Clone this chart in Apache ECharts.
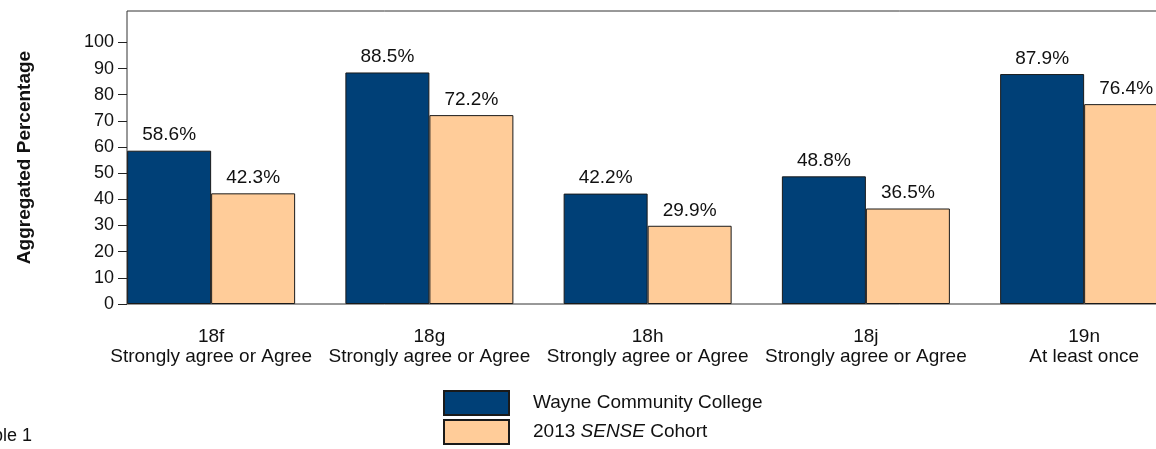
<!DOCTYPE html>
<html>
<head>
<meta charset="utf-8">
<script src="https://cdn.jsdelivr.net/npm/echarts@6/dist/echarts.min.js"></script>
<style>
  html, body { margin: 0; padding: 0; background: #fff; }
  #chart { width: 1156px; height: 449px; }
</style>
</head>
<body>
<div id="chart"></div>
<script>
var categories = [
  '18f\nStrongly agree or Agree',
  '18g\nStrongly agree or Agree',
  '18h\nStrongly agree or Agree',
  '18j\nStrongly agree or Agree',
  '19n\nAt least once'
];
var collegeValues = [58.6, 88.5, 42.2, 48.8, 87.9];
var cohortValues = [42.3, 72.2, 29.9, 36.5, 76.4];
var yTicks = [0, 10, 20, 30, 40, 50, 60, 70, 80, 90, 100];

var FONT = '"Liberation Sans", Arial, sans-serif';
var chart = echarts.init(document.getElementById('chart'));

var barLabel = {
  show: true,
  position: 'top',
  distance: 6,
  color: '#111',
  fontFamily: FONT,
  fontSize: 19,
  formatter: function (p) { return p.value.toFixed(1) + '%'; }
};

chart.setOption({
  animation: false,
  backgroundColor: '#fff',
  textStyle: { fontFamily: FONT },
  grid: [
    // frame: top, left and bottom lines, runs off the right edge
    { left: 127, top: 11, right: -100, height: 293, show: true, outerBoundsMode: 'none',
      borderColor: '#333', borderWidth: 1, backgroundColor: 'transparent' },
    // data grid, first band starts left of the frame
    { left: 102, top: 11, right: -37.25, height: 293, outerBoundsMode: 'none' }
  ],
  xAxis: [
    { gridIndex: 0, type: 'value', show: false },
    {
      gridIndex: 1,
      type: 'category',
      data: categories,
      axisLine: { show: false },
      axisTick: { show: false },
      axisLabel: {
        margin: 23,
        color: '#111',
        fontFamily: FONT,
        fontSize: 19,
        lineHeight: 20,
        interval: 0
      }
    }
  ],
  yAxis: [
    { gridIndex: 0, type: 'value', show: false },
    {
      gridIndex: 1,
      type: 'value',
      min: 0,
      max: 112,
      interval: 10,
      offset: -25,
      name: 'Aggregated Percentage',
      nameLocation: 'middle',
      nameGap: 93,
      nameTextStyle: { fontFamily: FONT, fontSize: 19, fontWeight: 'bold', color: '#111' },
      axisLine: { show: false },
      axisTick: { show: true, length: 9, customValues: yTicks, lineStyle: { color: '#222' } },
      axisLabel: { customValues: yTicks, margin: 13, color: '#111', fontFamily: FONT, fontSize: 18 },
      splitLine: { show: false }
    }
  ],
  legend: {
    orient: 'vertical',
    left: 443,
    top: 390,
    padding: 0,
    itemWidth: 65,
    itemHeight: 24,
    itemGap: 3,
    icon: 'rect',
    textStyle: {
      fontFamily: FONT,
      fontSize: 19,
      lineHeight: 24,
      color: '#111',
      padding: [0, 0, 0, 19],
      rich: {
        n: { fontFamily: FONT, fontSize: 19, lineHeight: 24, color: '#111' },
        i: { fontFamily: FONT, fontSize: 19, lineHeight: 24, color: '#111', fontStyle: 'italic' }
      }
    },
    formatter: function (name) {
      if (name === '2013 SENSE Cohort') return '{n|2013 }{i|SENSE}{n| Cohort}';
      return name;
    },
    data: ['Wayne Community College', '2013 SENSE Cohort']
  },
  series: [
    {
      name: 'Wayne Community College',
      type: 'bar',
      xAxisIndex: 1,
      yAxisIndex: 1,
      data: collegeValues,
      barWidth: 84,
      barGap: '0%',
      itemStyle: { color: '#004077', borderColor: '#1a1a1a', borderWidth: 1 },
      label: barLabel
    },
    {
      name: '2013 SENSE Cohort',
      type: 'bar',
      xAxisIndex: 1,
      yAxisIndex: 1,
      data: cohortValues,
      barWidth: 84,
      barGap: '0%',
      itemStyle: { color: '#FFCC99', borderColor: '#1a1a1a', borderWidth: 1 },
      label: barLabel
    }
  ],
  graphic: [
    {
      type: 'text',
      right: 1156 - 32,
      top: 427,
      style: { text: 'Table 1', fontFamily: FONT, fontSize: 18, fill: '#111' }
    }
  ]
});
</script>
</body>
</html>
